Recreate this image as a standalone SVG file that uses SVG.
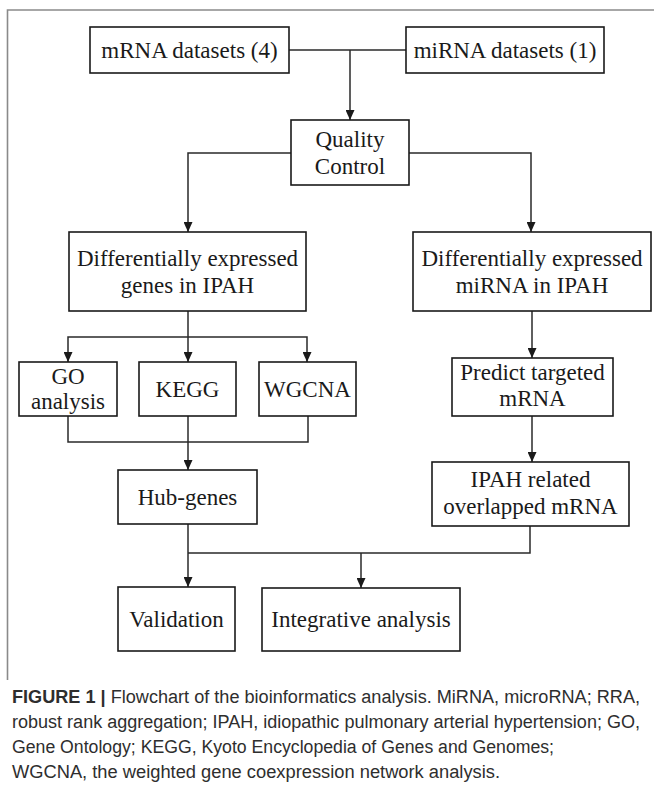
<svg xmlns="http://www.w3.org/2000/svg" width="654" height="788" viewBox="0 0 654 788">
<style>
.box{fill:#fff;stroke:#1a1a1a;stroke-width:1.6}
.t{font-family:"Liberation Serif","Times New Roman",serif;font-size:23px;fill:#1a1a1a;text-anchor:middle}
.c{fill:none;stroke:#2a2a2a;stroke-width:1.5}
.cap{font-family:"Liberation Sans",Arial,sans-serif;font-size:18px;fill:#2e2e2e}
.frame{fill:none;stroke:#8a8a8a;stroke-width:1.6}
</style>
<defs>
<marker id="ah" markerUnits="userSpaceOnUse" markerWidth="10" markerHeight="9" refX="10" refY="4.5" orient="auto">
<path d="M0,0 L10,4.5 L0,9 z" fill="#1a1a1a"/>
</marker>
</defs>
<rect width="654" height="788" fill="#fff"/>
<path class="frame" d="M7.5,680 V10 H654"/>
<g id="connectors">
<path class="c" d="M289,50 H406"/>
<path class="c" d="M350,50 V120" marker-end="url(#ah)"/>
<path class="c" d="M291,153 H188 V232" marker-end="url(#ah)"/>
<path class="c" d="M409,153 H531 V232" marker-end="url(#ah)"/>
<path class="c" d="M188,311 V362" marker-end="url(#ah)"/>
<path class="c" d="M188,337 H68 V362" marker-end="url(#ah)"/>
<path class="c" d="M188,337 H307 V362" marker-end="url(#ah)"/>
<path class="c" d="M68,416 V442 H308 V416"/>
<path class="c" d="M188,416 V470" marker-end="url(#ah)"/>
<path class="c" d="M532,311 V358" marker-end="url(#ah)"/>
<path class="c" d="M532,416 V462" marker-end="url(#ah)"/>
<path class="c" d="M188,524 V587" marker-end="url(#ah)"/>
<path class="c" d="M188,553 H530 V526"/>
<path class="c" d="M361,553 V588" marker-end="url(#ah)"/>
</g>
<g id="mrna-datasets"><rect class="box" x="90" y="27" width="199" height="46"/><text class="t" x="189.5" y="58">mRNA datasets (4)</text></g>
<g id="mirna-datasets"><rect class="box" x="406" y="27" width="198" height="46"/><text class="t" x="505" y="58">miRNA datasets (1)</text></g>
<g id="quality-control"><rect class="box" x="291" y="120" width="118" height="65"/><text class="t" x="350" y="147">Quality</text><text class="t" x="350" y="174">Control</text></g>
<g id="deg-ipah"><rect class="box" x="69" y="232" width="237" height="79"/><text class="t" x="187.5" y="266">Differentially expressed</text><text class="t" x="187.5" y="293">genes in IPAH</text></g>
<g id="demirna-ipah"><rect class="box" x="413" y="232" width="238" height="79"/><text class="t" x="532" y="266">Differentially expressed</text><text class="t" x="532" y="293">miRNA in IPAH</text></g>
<g id="go"><rect class="box" x="19" y="362" width="98" height="54"/><text class="t" x="68" y="384">GO</text><text class="t" x="68" y="409">analysis</text></g>
<g id="kegg"><rect class="box" x="139" y="362" width="97" height="54"/><text class="t" x="187.5" y="397">KEGG</text></g>
<g id="wgcna"><rect class="box" x="259" y="362" width="97" height="54"/><text class="t" x="307.5" y="397">WGCNA</text></g>
<g id="predict"><rect class="box" x="452" y="358" width="161" height="58"/><text class="t" x="532.5" y="380">Predict targeted</text><text class="t" x="532.5" y="406">mRNA</text></g>
<g id="hub-genes"><rect class="box" x="118" y="470" width="139" height="54"/><text class="t" x="187.5" y="505">Hub-genes</text></g>
<g id="ipah-overlap"><rect class="box" x="432" y="462" width="197" height="64"/><text class="t" x="530.5" y="487">IPAH related</text><text class="t" x="530.5" y="514">overlapped mRNA</text></g>
<g id="validation"><rect class="box" x="118" y="587" width="117" height="64"/><text class="t" x="176.5" y="627">Validation</text></g>
<g id="integrative"><rect class="box" x="262" y="588" width="198" height="63"/><text class="t" x="361" y="627">Integrative analysis</text></g>
<g id="caption">
<text class="cap" x="12" y="703" textLength="628" lengthAdjust="spacingAndGlyphs"><tspan font-weight="bold">FIGURE 1 |</tspan> Flowchart of the bioinformatics analysis. MiRNA, microRNA; RRA,</text>
<text class="cap" x="12" y="728" textLength="628" lengthAdjust="spacingAndGlyphs">robust rank aggregation; IPAH, idiopathic pulmonary arterial hypertension; GO,</text>
<text class="cap" x="12" y="753" textLength="542" lengthAdjust="spacingAndGlyphs">Gene Ontology; KEGG, Kyoto Encyclopedia of Genes and Genomes;</text>
<text class="cap" x="12" y="778" textLength="488" lengthAdjust="spacingAndGlyphs">WGCNA, the weighted gene coexpression network analysis.</text>
</g>
</svg>
